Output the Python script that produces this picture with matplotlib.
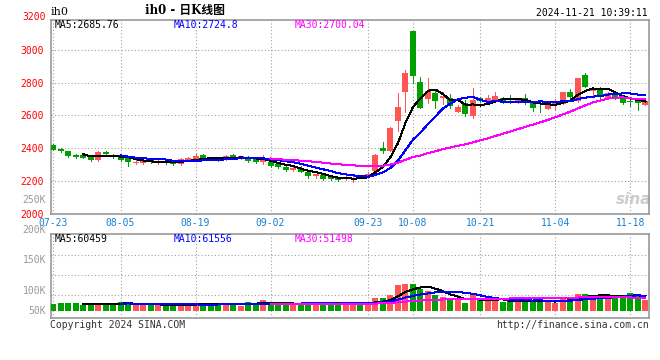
import numpy as np
import pandas as pd
import matplotlib
matplotlib.use('Agg')
import matplotlib.pyplot as plt
from matplotlib import transforms

# trading days shown (07-23 .. 11-20), exchange holidays removed
holidays = ['2024-09-16', '2024-09-17', '2024-10-01', '2024-10-02',
            '2024-10-03', '2024-10-04', '2024-10-07']
dates = pd.bdate_range('2024-07-23', '2024-11-20', freq='C', holidays=holidays)
date_labels = list(dates.strftime('%m-%d'))
tick_dates = ['07-23', '08-05', '08-19', '09-02', '09-23',
              '10-08', '10-21', '11-04', '11-18']

# daily OHLC
opens = [2420, 2397, 2383, 2359, 2357, 2351, 2328, 2379, 2353, 2349,
         2338, 2308, 2310, 2334, 2316, 2322, 2318, 2302, 2326, 2334,
         2359, 2338, 2338, 2332, 2359, 2338, 2347, 2332, 2314, 2318,
         2306, 2288, 2269, 2277, 2257, 2229, 2235, 2227, 2220, 2212,
         2217, 2230, 2224, 2263, 2400, 2383, 2566, 2746, 3116, 2805,
         2701, 2737, 2705, 2709, 2623, 2676, 2599, 2709, 2684, 2697,
         2707, 2696, 2686, 2705, 2678, 2654, 2642, 2666, 2670, 2743,
         2691, 2849, 2752, 2760, 2703, 2727, 2715, 2691, 2695, 2666]
highs = [2424, 2400, 2385, 2365, 2363, 2359, 2385, 2385, 2365, 2365,
         2343, 2326, 2332, 2338, 2326, 2328, 2322, 2343, 2347, 2371,
         2363, 2343, 2347, 2359, 2363, 2355, 2353, 2334, 2359, 2322,
         2310, 2294, 2283, 2290, 2261, 2245, 2241, 2229, 2222, 2233,
         2241, 2235, 2257, 2367, 2436, 2530, 2737, 2878, 3118, 2833,
         2827, 2754, 2746, 2731, 2664, 2695, 2770, 2715, 2725, 2746,
         2715, 2723, 2703, 2731, 2682, 2670, 2674, 2699, 2743, 2760,
         2829, 2857, 2776, 2772, 2743, 2752, 2719, 2711, 2699, 2695]
lows = [2387, 2375, 2349, 2338, 2342, 2320, 2324, 2359, 2338, 2324,
        2294, 2302, 2302, 2308, 2306, 2302, 2300, 2298, 2322, 2330,
        2330, 2326, 2322, 2326, 2332, 2334, 2318, 2312, 2306, 2288,
        2277, 2261, 2263, 2253, 2218, 2216, 2208, 2206, 2202, 2206,
        2196, 2216, 2220, 2251, 2373, 2383, 2505, 2623, 2796, 2648,
        2676, 2648, 2672, 2644, 2619, 2599, 2587, 2680, 2680, 2693,
        2678, 2674, 2678, 2670, 2626, 2623, 2638, 2642, 2670, 2699,
        2684, 2772, 2715, 2707, 2699, 2699, 2670, 2658, 2634, 2662]
closes = [2391, 2381, 2355, 2347, 2343, 2330, 2379, 2363, 2344, 2329,
          2314, 2318, 2322, 2314, 2322, 2310, 2302, 2334, 2343, 2355,
          2334, 2332, 2335, 2353, 2347, 2353, 2322, 2314, 2338, 2294,
          2283, 2267, 2277, 2257, 2231, 2241, 2214, 2210, 2204, 2224,
          2220, 2222, 2243, 2359, 2383, 2522, 2652, 2860, 2843, 2648,
          2750, 2690, 2721, 2656, 2654, 2610, 2695, 2689, 2709, 2721,
          2682, 2692, 2699, 2678, 2648, 2650, 2664, 2686, 2743, 2715,
          2829, 2776, 2764, 2711, 2739, 2707, 2674, 2684, 2674, 2690]
volumes = [28100, 32200, 32200, 32200, 22800, 28100, 32200, 22800, 28100, 36200,
           36200, 24100, 24100, 26800, 24100, 21400, 21400, 26800, 32200, 28100,
           26800, 26800, 26800, 30800, 26800, 21400, 36200, 32200, 44200, 26800,
           26800, 26800, 26800, 32200, 36200, 32200, 26800, 26800, 36200, 36200,
           36200, 24100, 24100, 52300, 52300, 64300, 104500, 108500, 108500, 87100,
           80400, 64300, 58000, 42900, 42900, 32200, 68300, 42900, 42900, 42900,
           36200, 40200, 36200, 42900, 36200, 42900, 36200, 32200, 52300, 56300,
           70200, 70200, 56300, 60300, 56300, 60300, 60300, 72400, 64300, 45000]

price_ticks = [2000, 2200, 2400, 2600, 2800, 3000]
vol_tick_labels = ['200K', '150K', '100K', '50K']
price_ma_text = ['MA5:2685.76', 'MA10:2724.8', 'MA30:2700.04']
vol_ma_text = ['MA5:60459', 'MA10:61556', 'MA30:51498']

RED = '#ff5555'
GREEN = '#00a000'
MA_COLORS = ['black', '#0000ff', '#ff00ff']
GRID = '#a0a0a0'
MONO = 'DejaVu Sans Mono'
W, H = 660, 360
LW = 0.72  # one pixel at 100 dpi

df = pd.DataFrame({'open': opens, 'high': highs, 'low': lows,
                   'close': closes, 'vol': volumes})
x = np.arange(len(df))
up = df['close'] >= df['open']
colors = np.where(up, RED, GREEN)

fig = plt.figure(figsize=(6.6, 3.6), dpi=100)


def px(x0, y0):
    # pixel position (from top-left) to figure fraction
    return x0 / W, 1 - y0 / H


ax = fig.add_axes([51 / W, 1 - 213.75 / H, 598 / W, 194.25 / H])
axv = fig.add_axes([51 / W, 1 - 318.3 / H, 598 / W, 84 / H])

tick_pos = [date_labels.index(d) for d in tick_dates]

# price panel
body_h = np.maximum((df['close'] - df['open']).abs(), 4)
body_b = df[['open', 'close']].min(axis=1)
ax.vlines(x, df['low'], df['high'], colors=colors, lw=LW, antialiased=False,
          zorder=3)
ax.bar(x, body_h, bottom=body_b, width=0.8, color=colors, linewidth=0,
       antialiased=False, zorder=4)
for n, c in zip([5, 10, 30], MA_COLORS):
    ax.plot(x, df['close'].rolling(n).mean(), color=c, lw=LW,
            antialiased=False, zorder=5)

ax.set_xlim(-0.27, 79.47)
ax.set_ylim(2000, 3186)
ax.set_yticks(price_ticks)
ax.set_yticklabels([str(t) for t in price_ticks], family=MONO, fontsize=7,
                   color='red')
ax.set_xticks(tick_pos)
ax.set_xticklabels(tick_dates, family=MONO, fontsize=7, color='#1a7fd0')
ax.tick_params(length=0, pad=3)
ax.tick_params(axis='y', pad=5)
ax.grid(True, color=GRID, ls=(0, (1, 2)), lw=0.8)
ax.set_axisbelow(True)
for s in ax.spines.values():
    s.set_color('#999999')
    s.set_linewidth(1.2)

trans = transforms.blended_transform_factory(ax.transAxes, ax.transData)
ax.text(-5 / 598, 3200, '3200', transform=trans, ha='right', va='center',
        family=MONO, fontsize=7, color='red', clip_on=False)

# sina watermark
ax.text(0.975, 0.075, 'sina', transform=ax.transAxes, ha='center',
        va='center', fontsize=11, fontweight='bold', style='italic',
        color='#cccccc', zorder=1)

# volume panel
axv.bar(x, df['vol'], width=0.8, color=colors, linewidth=0,
        antialiased=False, zorder=3)
for n, c in zip([5, 10, 30], MA_COLORS):
    axv.plot(x, df['vol'].rolling(n).mean(), color=c, lw=LW,
             antialiased=False, zorder=4)
axv.set_xlim(-0.27, 79.47)
axv.set_ylim(-29350, 308300)
axv.set_xticks(tick_pos)
axv.set_yticks([64000, 145000, 225000])
axv.set_xticklabels([])
axv.set_yticklabels([])
axv.tick_params(length=0)
axv.grid(True, color=GRID, ls=(0, (1, 2)), lw=0.8)
axv.set_axisbelow(True)
for s in axv.spines.values():
    s.set_color('#999999')
    s.set_linewidth(1.2)

# volume axis labels (placed as on the original)
for lab, yy in zip(vol_tick_labels, [230, 260, 291, 311]):
    fig.text(*px(46, yy), lab, ha='right', va='center', family=MONO,
             fontsize=7, color='#999999')
fig.text(*px(46, 200), '250K', ha='right', va='center', family=MONO,
         fontsize=7, color='#999999')

# MA legends
for t, xx, c in zip(price_ma_text, [55, 174, 295], MA_COLORS):
    fig.text(*px(xx, 24.5), t, ha='left', va='center', family=MONO,
             fontsize=7, color=c)
for t, xx, c in zip(vol_ma_text, [55, 174, 295], MA_COLORS):
    fig.text(*px(xx, 239), t, ha='left', va='center', family=MONO,
             fontsize=7, color=c)

# header and footer
fig.text(*px(51, 12), 'ih0', ha='left', va='center',
         family=['DejaVu Serif', 'Noto Sans CJK SC'], fontsize=8)
fig.text(*px(185, 10.5), 'ih0 - 日K线图', ha='center', va='center',
         family=['DejaVu Serif', 'Noto Sans CJK SC'], fontsize=8.5,
         fontweight='bold')
fig.text(*px(648, 12.5), '2024-11-21 10:39:11', ha='right', va='center',
         family=MONO, fontsize=7, color='black')
fig.text(*px(50, 324.5), 'Copyright 2024 SINA.COM', ha='left', va='center',
         family=MONO, fontsize=7, color='#333333')
fig.text(*px(649, 324.5), 'http://finance.sina.com.cn', ha='right',
         va='center', family=MONO, fontsize=7, color='#333333')

fig.savefig('out.png', dpi=100)
